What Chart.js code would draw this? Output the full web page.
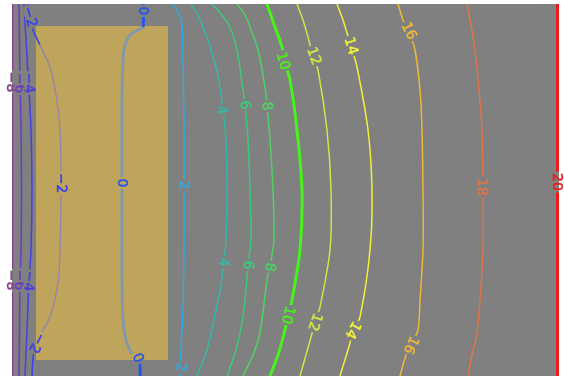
<!DOCTYPE html>
<html>
<head>
<meta charset="utf-8">
<script src="https://cdn.jsdelivr.net/npm/chart.js@4/dist/chart.umd.min.js"></script>
<style>
  html, body { margin: 0; padding: 0; background: #fff; }
  canvas { display: block; }
</style>
</head>
<body>
<canvas id="c" width="564" height="376"></canvas>
<script>
// Contour levels of the field
const LEVELS = [-8, -6, -4, -2, 0, 2, 4, 6, 8, 10, 12, 14, 16, 18, 20];

// Domain extent (x to the right, y measured downward from the top edge)
const X_RANGE = [0, 547];
const Y_RANGE = [0, 372];

// Inclusion block (x0, x1, y0, y1)
const BLOCK = [24, 156, 22, 356];

// Iso-lines, one [x, y] list per level
const LINE_M8 = [[0.5,0],[0.5,372]];
const LINE_M6 = [[7,0],[7.5,36],[8,79],[9,126],[9.5,186],[9,246],[8,276],[7.5,326],[7,372]];
const LINE_M4 = [[12,0],[14,36],[16.5,79],[19,126],[20,186],[19,246],[17,277],[15,326],[13,372]];
const LINE_M2 = [[16,0],[17.5,13],[21,26],[28,41],[38,63],[44,91],[48,126],[49,186],[48,246],[46,279],[38,313],[28,331],[24,339],[21,354],[20,372]];
const LINE_0  = [[131,0],[131,23],[126,26],[118,31],[113,41],[111,56],[110,96],[110,186],[110,276],[111,316],[114,336],[119,348],[125,354],[128,361],[128,372]];
const LINE_2  = [[160,0],[166,8],[170,21],[171,56],[172,116],[172,186],[172,246],[171,306],[169,346],[168,372]];
const LINE_4  = [[179,0],[186,11],[191,23],[196,36],[201,53],[206,71],[209,91],[211,106],[214,136],[215,186],[214,236],[212,258],[209,281],[202,316],[195,346],[185,372]];
const LINE_6  = [[200,0],[210,11],[218,23],[225,46],[230,79],[233,101],[236,136],[238,186],[239,236],[236,261],[234,286],[231,313],[224,346],[215,372]];
const LINE_8  = [[225,0],[233,11],[238,23],[246,46],[253,83],[255,101],[258,136],[261,186],[262,236],[260,251],[258,263],[255,276],[248,329],[241,351],[231,372]];
const LINE_10 = [[255,0],[263,23],[270,43],[272,56],[278,76],[285,126],[290,186],[288,246],[280,296],[276,311],[273,326],[266,351],[258,372]];
const LINE_12 = [[285,0],[291,16],[296,33],[301,52],[306,66],[315,126],[319,186],[318,246],[308,303],[303,318],[301,326],[288,372]];
const LINE_14 = [[325,0],[331,16],[335,29],[339,42],[345,63],[356,126],[360,186],[358,246],[348,313],[341,326],[338,339],[328,372]];
const LINE_16 = [[386,0],[391,16],[397,28],[403,46],[408,86],[410,126],[411,186],[411,246],[408,296],[406,326],[399,341],[394,351],[388,372]];
const LINE_18 = [[455,0],[460,26],[463,46],[467,86],[470,126],[471,186],[471,246],[468,296],[465,329],[460,351],[456,372]];
const LINE_20 = [[545.5,0],[545.5,372]];

// Inline label anchors per level
const LAB_M8 = [[-1,78],[-1,276]];
const LAB_M6 = [[7.5,79],[7.5,276]];
const LAB_M4 = [[17,79],[17,277]];
const LAB_M2 = [[18,13],[49,179],[25,339]];
const LAB_0  = [[131,7],[110,179],[126,354]];
const LAB_2  = [[172,181],[169,363]];
const LAB_4  = [[210,106],[212,258]];
const LAB_6  = [[233,101],[236,261]];
const LAB_8  = [[255,102],[258,263]];
const LAB_10 = [[271,57],[276,311]];
const LAB_12 = [[302,52],[303,318]];
const LAB_14 = [[339,42],[341,326]];
const LAB_16 = [[397,27],[399,341]];
const LAB_18 = [[470,183]];
const LAB_20 = [[545.5,178]];

const LINES  = [LINE_M8, LINE_M6, LINE_M4, LINE_M2, LINE_0, LINE_2, LINE_4, LINE_6, LINE_8, LINE_10, LINE_12, LINE_14, LINE_16, LINE_18, LINE_20];
const LABELS = [LAB_M8, LAB_M6, LAB_M4, LAB_M2, LAB_0, LAB_2, LAB_4, LAB_6, LAB_8, LAB_10, LAB_12, LAB_14, LAB_16, LAB_18, LAB_20];

// Styling
const COLORS = ['#8b3a96','#6b3cc0','#4b3de0','#3a3ff0','#2457e6','#30a8e0','#34b8a4','#3cc87c','#4ed264',
                '#48f21c','#c8e84a','#f0f03c','#eeb83a','#e07448','#ee1c1c'];
const MUTED  = { '-2': '#9c84a6', '0': '#8398ab' };
const BG_GRAY = '#808080';
const BLOCK_FILL = '#bea55b';

const inBlock = p => p.x >= BLOCK[0] && p.x <= BLOCK[1] && p.y >= BLOCK[2] && p.y <= BLOCK[3];

const datasets = LEVELS.map((lv, i) => ({
  label: String(lv),
  data: LINES[i].map(([x, y]) => ({ x, y })),
  showLine: true,
  pointRadius: 0,
  borderColor: COLORS[i],
  borderWidth: lv % 10 === 0 ? 3 : 1.5,
  tension: 0.3,
  fill: false,
  order: 1,
  segment: {
    borderColor: c => (MUTED[String(lv)] && inBlock(c.p0.parsed) && inBlock(c.p1.parsed)) ? MUTED[String(lv)] : undefined
  }
}));

datasets.push({
  label: 'block',
  data: [
    { x: BLOCK[0], y: BLOCK[2] }, { x: BLOCK[1], y: BLOCK[2] },
    { x: BLOCK[1], y: BLOCK[3] }, { x: BLOCK[0], y: BLOCK[3] },
    { x: BLOCK[0], y: BLOCK[2] }
  ],
  showLine: true,
  pointRadius: 0,
  borderWidth: 0,
  borderColor: 'rgba(0,0,0,0)',
  backgroundColor: BLOCK_FILL,
  fill: 'shape',
  tension: 0,
  order: 10
});

const background = {
  id: 'plotBackground',
  beforeDatasetsDraw(chart) {
    const { ctx, chartArea: a } = chart;
    ctx.save();
    ctx.fillStyle = BG_GRAY;
    ctx.fillRect(a.left, a.top, a.right - a.left, a.bottom - a.top);
    ctx.restore();
  }
};

const contourLabels = {
  id: 'contourLabels',
  afterDatasetsDraw(chart) {
    const { ctx, chartArea: a, scales: { x, y }, width: W, height: H } = chart;
    const bx0 = x.getPixelForValue(BLOCK[0]), bx1 = x.getPixelForValue(BLOCK[1]);
    const by0 = y.getPixelForValue(BLOCK[2]), by1 = y.getPixelForValue(BLOCK[3]);
    // clip helpers: three disjoint backdrop regions
    const clipOutside = () => { ctx.beginPath(); ctx.rect(0, 0, W, H); ctx.rect(a.left, a.top, a.right - a.left, a.bottom - a.top); ctx.clip('evenodd'); };
    const clipPlot = () => { ctx.beginPath(); ctx.rect(a.left, a.top, a.right - a.left, a.bottom - a.top); ctx.rect(bx0, by0, bx1 - bx0, by1 - by0); ctx.clip('evenodd'); };
    const clipBlock = () => { ctx.beginPath(); ctx.rect(bx0, by0, bx1 - bx0, by1 - by0); ctx.clip(); };
    ctx.save();
    ctx.font = '14px "DejaVu Sans"';
    ctx.textAlign = 'center';
    ctx.textBaseline = 'middle';
    LEVELS.forEach((lv, i) => {
      const pts = LINES[i].map(([vx, vy]) => [x.getPixelForValue(vx), y.getPixelForValue(vy)]);
      LABELS[i].forEach(([lx, ly]) => {
        const px = x.getPixelForValue(lx), py = y.getPixelForValue(ly);
        let best = Infinity, dx = 0, dy = 1;
        for (let k = 0; k < pts.length - 1; k++) {
          const [x0, y0] = pts[k], [x1, y1] = pts[k + 1];
          const sx = x1 - x0, sy = y1 - y0, L2 = sx * sx + sy * sy || 1;
          let t = ((px - x0) * sx + (py - y0) * sy) / L2;
          t = Math.max(0, Math.min(1, t));
          const qx = x0 + t * sx - px, qy = y0 + t * sy - py, d = qx * qx + qy * qy;
          if (d < best) { best = d; dx = sx; dy = sy; }
        }
        if (dy < 0 || (dy === 0 && dx < 0)) { dx = -dx; dy = -dy; }
        const ang = Math.atan2(dy, dx);
        const txt = String(lv).replace('-', '\u2212');
        const w = ctx.measureText(txt).width + 3, h = 10;
        const ux = Math.cos(ang), uy = Math.sin(ang), vx = -uy, vy = ux;
        const path = () => {
          ctx.beginPath();
          ctx.moveTo(px - ux * w / 2 - vx * h / 2, py - uy * w / 2 - vy * h / 2);
          ctx.lineTo(px + ux * w / 2 - vx * h / 2, py + uy * w / 2 - vy * h / 2);
          ctx.lineTo(px + ux * w / 2 + vx * h / 2, py + uy * w / 2 + vy * h / 2);
          ctx.lineTo(px - ux * w / 2 + vx * h / 2, py - uy * w / 2 + vy * h / 2);
          ctx.closePath();
        };
        // open a gap in the line under the label
        [[clipOutside, '#ffffff'], [clipPlot, BG_GRAY], [clipBlock, BLOCK_FILL]].forEach(([clip, col]) => {
          ctx.save(); clip(); ctx.fillStyle = col; path(); ctx.fill(); ctx.restore();
        });
        // label text, slightly emboldened
        ctx.save();
        ctx.translate(px, py);
        ctx.rotate(ang);
        ctx.fillStyle = COLORS[i];
        ctx.strokeStyle = COLORS[i];
        ctx.lineWidth = 0.5;
        ctx.fillText(txt, 0, 0.5);
        ctx.strokeText(txt, 0, 0.5);
        ctx.restore();
      });
    });
    ctx.restore();
  }
};

new Chart(document.getElementById('c'), {
  type: 'scatter',
  data: { datasets },
  options: {
    responsive: false,
    animation: false,
    devicePixelRatio: 1,
    layout: { padding: { left: 12, top: 4, right: 5, bottom: 0 } },
    plugins: { legend: { display: false }, tooltip: { enabled: false } },
    scales: {
      x: { type: 'linear', min: X_RANGE[0], max: X_RANGE[1], display: false },
      y: { type: 'linear', min: Y_RANGE[0], max: Y_RANGE[1], reverse: true, display: false }
    }
  },
  plugins: [background, contourLabels]
});
</script>
</body>
</html>
